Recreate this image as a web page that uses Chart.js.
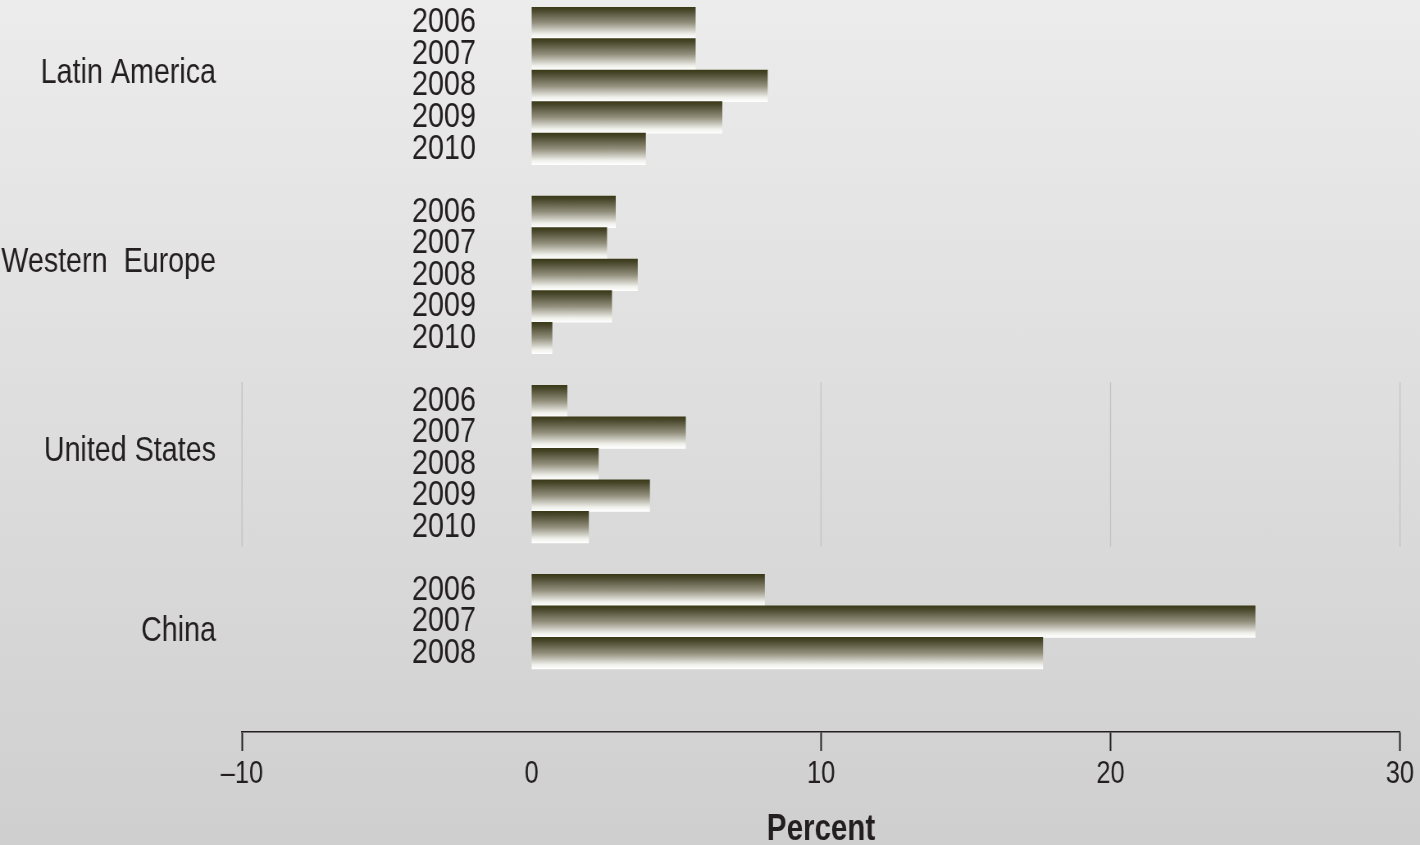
<!DOCTYPE html>
<html><head><meta charset="utf-8">
<script src="https://cdn.jsdelivr.net/npm/chart.js@4"></script>
<style>
html,body{margin:0;padding:0;}
body{width:1420px;height:845px;overflow:hidden;background:linear-gradient(to bottom,#ececec 0%,#dcdcdc 55%,#cfcfcf 100%);}
/* the chart is drawn 1/0.81986 wider and squeezed back to 1420px, giving the narrow lettering of the original */
#wrap{position:relative;width:1732px;height:845px;transform:scaleX(0.81986);transform-origin:0 0;}
</style></head><body>
<div id="wrap"><canvas id="c"></canvas></div>
<script>
const regions = ['Latin America', 'Western  Europe', 'United States', 'China'];
const yearsLatinAmerica = ['2006', '2007', '2008', '2009', '2010'];
const yearsWesternEurope = ['2006', '2007', '2008', '2009', '2010'];
const yearsUnitedStates = ['2006', '2007', '2008', '2009', '2010'];
const yearsChina = ['2006', '2007', '2008'];
const latinAmerica = [5.66, 5.66, 8.15, 6.58, 3.94];
const westernEurope = [2.90, 2.60, 3.66, 2.77, 0.71];
const unitedStates = [1.23, 5.32, 2.31, 4.08, 1.97];
const china = [8.05, 25.0, 17.66];
const xTickValues = [-10, 0, 10, 20, 30];
const xTickLabels = ['\u201310', '0', '10', '20', '30'];

const FONT = "'Liberation Sans', Arial, sans-serif";
const TEXT = '#231f20';

// rows: each region's years, then a blank spacer row; one extra blank row at the end
const groupYears = [yearsLatinAmerica, yearsWesternEurope, yearsUnitedStates, yearsChina];
const groupValues = [latinAmerica, westernEurope, unitedStates, china];
const rowLabels = [], rowValues = [], groupRows = [];
groupYears.forEach((ys, gi) => {
  groupRows.push({ start: rowLabels.length, end: rowLabels.length + ys.length - 1 });
  ys.forEach((yr, i) => { rowLabels.push(yr); rowValues.push(groupValues[gi][i]); });
  rowLabels.push(''); rowValues.push(null);
});
rowLabels.push(''); rowValues.push(null);

function barGradient(ctx) {
  const chart = ctx.chart, y = chart.scales && chart.scales.y;
  if (!y || !chart.chartArea) return '#6f6d55';
  const c = y.getPixelForValue(ctx.dataIndex);
  const h = Math.abs(y.getPixelForValue(1) - y.getPixelForValue(0));
  const g = chart.ctx.createLinearGradient(0, c - h / 2, 0, c + h / 2);
  g.addColorStop(0, '#3a3a17');
  g.addColorStop(0.1, '#47462a');
  g.addColorStop(0.5, '#928f7c');
  g.addColorStop(0.86, '#efefea');
  g.addColorStop(1, '#ffffff');
  return g;
}

const decor = {
  id: 'decor',
  beforeDatasetsDraw(chart) {
    const { ctx, scales: { x, y } } = chart;
    const us = groupRows[2];
    const top = y.getPixelForValue(us.start - 0.6);
    const bottom = y.getPixelForValue(us.end + 0.62);
    ctx.save();
    ctx.strokeStyle = '#c2c2c2';
    ctx.lineWidth = 1.3;
    xTickValues.forEach(v => {
      if (v === 0) return;
      const px = x.getPixelForValue(v);
      ctx.beginPath(); ctx.moveTo(px, top); ctx.lineTo(px, bottom); ctx.stroke();
    });
    ctx.restore();
  },
  afterDraw(chart) {
    const { ctx, scales: { y } } = chart;
    ctx.save();
    ctx.fillStyle = TEXT;
    ctx.font = '35px ' + FONT;
    ctx.textAlign = 'right';
    ctx.textBaseline = 'middle';
    groupRows.forEach((g, i) => {
      const n = g.end - g.start + 1;
      const mid = (g.start + g.end) / 2 + (n >= 5 ? -0.4 : 0.3);
      ctx.fillText(regions[i], 263.5, y.getPixelForValue(mid));
    });
    ctx.restore();
  }
};

new Chart(document.getElementById('c'), {
  type: 'bar',
  data: {
    labels: rowLabels,
    datasets: [{
      data: rowValues,
      backgroundColor: barGradient,
      borderWidth: 0,
      barPercentage: 1,
      categoryPercentage: 1
    }]
  },
  options: {
    indexAxis: 'y',
    responsive: true,
    maintainAspectRatio: false,
    animation: false,
    events: [],
    layout: { padding: { top: 7, left: 295.2, right: 24.4, bottom: 0 } },
    plugins: { legend: { display: false }, tooltip: { enabled: false }, title: { display: false } },
    scales: {
      y: {
        type: 'category',
        grid: { display: false },
        border: { display: false },
        ticks: {
          mirror: true, padding: 207.3, autoSkip: false,
          color: TEXT, font: { family: FONT, size: 35, lineHeight: 1.0 }
        },
        afterFit(scale) { scale.width = 0; scale.paddingTop = 0; scale.paddingBottom = 0; }
      },
      x: {
        type: 'linear', min: -10, max: 30,
        afterBuildTicks(axis) { axis.ticks = xTickValues.map(v => ({ value: v })); },
        ticks: {
          autoSkip: false, maxRotation: 0, padding: 5, color: TEXT,
          font: { family: FONT, size: 31, lineHeight: 1.2 },
          callback: (v) => xTickLabels[xTickValues.indexOf(v)]
        },
        grid: {
          display: true, drawOnChartArea: false, drawTicks: true, tickLength: 19,
          tickWidth: 2,
          tickColor: (c) => (c.tick && c.tick.value === 0) ? 'rgba(0,0,0,0)' : TEXT
        },
        border: { display: true, color: TEXT, width: 1.5 },
        title: {
          display: true, text: 'Percent', color: TEXT,
          font: { family: FONT, size: 36, weight: 'bold', lineHeight: 0.8 },
          padding: { top: 17, bottom: 1 }
        }
      }
    }
  },
  plugins: [decor]
});
</script>
</body></html>
